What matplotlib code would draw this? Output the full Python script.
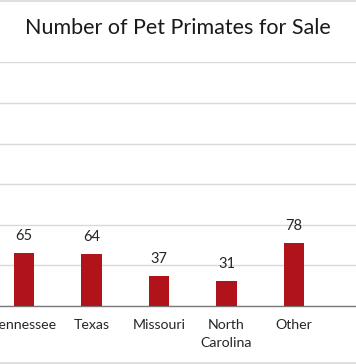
import matplotlib
matplotlib.use('Agg')
import matplotlib.pyplot as plt
from matplotlib.lines import Line2D

# Data (left side of the chart is cropped in the reference)
states = ["Tennessee", "Texas", "Missouri", "North\nCarolina", "Other"]
counts = [65, 64, 37, 31, 78]
grid_ticks = [0, 50, 100, 150, 200, 250, 300]

bar_color = "#b0141a"
font = "Lato"

fig = plt.figure(figsize=(3.56, 3.64), dpi=100)
ax = fig.add_axes([0, 0.1593, 1, 0.6697])

x = list(range(len(states)))
ax.bar(x, counts, width=0.31, color=bar_color, zorder=3)

# chart is cropped: Tennessee sits at 24px, slots are 67.5px apart
x0 = -24 / 67.5
ax.set_xlim(x0, x0 + 356 / 67.5)
ax.set_ylim(0, 300)

ax.set_yticks(grid_ticks)
ax.yaxis.grid(True, color="#d9d9d9", linewidth=1, zorder=0)
ax.tick_params(axis="y", left=False, labelleft=False)
ax.tick_params(axis="x", length=0, pad=9)
ax.set_xticks(x)
ax.set_xticklabels(states, fontsize=10.2, family=font, color="#262626",
                   linespacing=1.6)

for side in ["top", "right", "left"]:
    ax.spines[side].set_visible(False)
ax.spines["bottom"].set_color("#7a7a7a")
ax.spines["bottom"].set_linewidth(1)

for xi, v in zip(x, counts):
    ax.annotate(str(v), (xi, v), xytext=(0, 7), textcoords="offset points",
                ha="center", va="bottom", fontsize=10.5, family=font,
                color="#262626")

fig.text(0.5, 1 - 28 / 364, "Number of Pet Primates for Sale", ha="center",
         va="center", fontsize=15.5, family=font, color="#1a1a1a")

# chart border, visible at top and bottom of the crop
fig.add_artist(Line2D([0, 1], [1 - 1 / 364, 1 - 1 / 364], color="#d9d9d9",
                      linewidth=1.2, transform=fig.transFigure))
fig.add_artist(Line2D([0, 1], [1.5 / 364, 1.5 / 364], color="#d9d9d9",
                      linewidth=1.2, transform=fig.transFigure))

fig.savefig("out.png", dpi=100)
